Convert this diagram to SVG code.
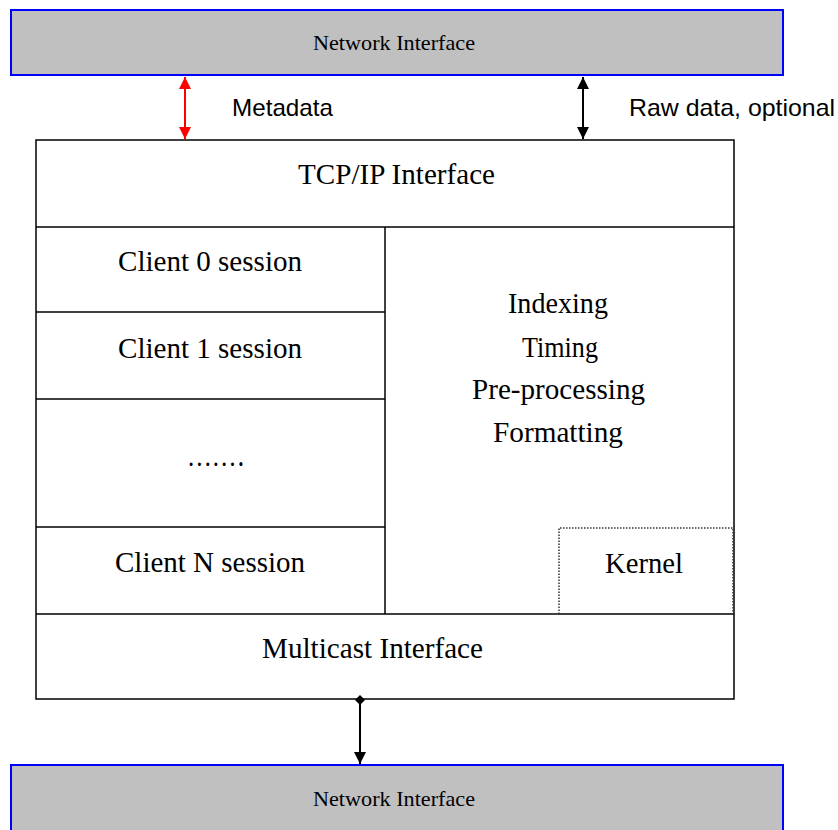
<svg xmlns="http://www.w3.org/2000/svg" width="838" height="830" viewBox="0 0 838 830">
  <style>
    .net { fill: #c0c0c0; stroke: #0000ff; stroke-width: 2; }
    .frame { fill: #ffffff; stroke: #000000; stroke-width: 1.5; }
    .rule { stroke: #000000; stroke-width: 1.5; fill: none; }
    .dotted { fill: none; stroke: #333333; stroke-width: 1.5; stroke-dasharray: 1.5 1.5; }
    .netlabel { font-family: "Liberation Serif", "DejaVu Serif", serif; font-size: 22px; text-anchor: middle; fill: #000; }
    .label { font-family: "Liberation Serif", "DejaVu Serif", serif; font-size: 29px; text-anchor: middle; fill: #000; }
    .side { font-family: "Liberation Sans", Arial, sans-serif; font-size: 24px; fill: #000; }
  </style>
  <defs>
    <marker id="headRed" viewBox="0 0 10 10" refX="10" refY="5" markerWidth="13" markerHeight="12" markerUnits="userSpaceOnUse" orient="auto-start-reverse">
      <path d="M0,0 L10,5 L0,10 Z" fill="#ff0000"/>
    </marker>
    <marker id="headBlack" viewBox="0 0 10 10" refX="10" refY="5" markerWidth="13" markerHeight="12" markerUnits="userSpaceOnUse" orient="auto-start-reverse">
      <path d="M0,0 L10,5 L0,10 Z" fill="#000000"/>
    </marker>
    <marker id="diamond" viewBox="0 0 10 10" refX="5" refY="5" markerWidth="10" markerHeight="10" markerUnits="userSpaceOnUse" orient="auto">
      <path d="M0,5 L5,0 L10,5 L5,10 Z" fill="#000000"/>
    </marker>
  </defs>

  <g id="network-top">
    <rect class="net" x="11" y="10" width="772" height="65"/>
    <text class="netlabel" x="394" y="50" textLength="162" lengthAdjust="spacingAndGlyphs">Network Interface</text>
  </g>

  <g id="server">
    <rect class="frame" x="36" y="140" width="698" height="559"/>
    <line class="rule" x1="36" y1="227" x2="734" y2="227"/>
    <line class="rule" x1="385" y1="227" x2="385" y2="614"/>
    <line class="rule" x1="36" y1="614" x2="734" y2="614"/>
  </g>

  <g id="tcpip">
    <text class="label" x="396.5" y="184" textLength="197" lengthAdjust="spacingAndGlyphs">TCP/IP Interface</text>
  </g>

  <g id="client-0">
    <line class="rule" x1="36" y1="312" x2="385" y2="312"/>
    <text class="label" x="210" y="271" textLength="184" lengthAdjust="spacingAndGlyphs">Client 0 session</text>
  </g>
  <g id="client-1">
    <line class="rule" x1="36" y1="399" x2="385" y2="399"/>
    <text class="label" x="210" y="358" textLength="184" lengthAdjust="spacingAndGlyphs">Client 1 session</text>
  </g>
  <g id="client-more">
    <line class="rule" x1="36" y1="527" x2="385" y2="527"/>
    <text class="label" x="216" y="466" textLength="58" lengthAdjust="spacingAndGlyphs">……․</text>
  </g>
  <g id="client-n">
    <text class="label" x="210" y="572" textLength="190" lengthAdjust="spacingAndGlyphs">Client N session</text>
  </g>

  <g id="processing">
    <text class="label" x="558" y="313" textLength="100" lengthAdjust="spacingAndGlyphs">Indexing</text>
    <text class="label" x="560" y="357" textLength="76" lengthAdjust="spacingAndGlyphs">Timing</text>
    <text class="label" x="558.5" y="399" textLength="173" lengthAdjust="spacingAndGlyphs">Pre-processing</text>
    <text class="label" x="558" y="442" textLength="130" lengthAdjust="spacingAndGlyphs">Formatting</text>
  </g>

  <g id="kernel">
    <path class="dotted" d="M559,614 L559,528 L733,528 L733,614"/>
    <text class="label" x="644" y="573" textLength="78" lengthAdjust="spacingAndGlyphs">Kernel</text>
  </g>

  <g id="multicast">
    <text class="label" x="372.5" y="658" textLength="221" lengthAdjust="spacingAndGlyphs">Multicast Interface</text>
  </g>

  <g id="network-bottom">
    <rect class="net" x="11" y="765" width="772" height="70"/>
    <text class="netlabel" x="394" y="806" textLength="162" lengthAdjust="spacingAndGlyphs">Network Interface</text>
  </g>

  <g id="connectors">
    <line x1="185" y1="77" x2="185" y2="139" stroke="#ff0000" stroke-width="2" marker-start="url(#headRed)" marker-end="url(#headRed)"/>
    <text class="side" x="232" y="116" textLength="101" lengthAdjust="spacingAndGlyphs">Metadata</text>
    <line x1="583" y1="77" x2="583" y2="139" stroke="#000000" stroke-width="2" marker-start="url(#headBlack)" marker-end="url(#headBlack)"/>
    <text class="side" x="629" y="116" textLength="206" lengthAdjust="spacingAndGlyphs">Raw data, optional</text>
    <line x1="360" y1="700" x2="360" y2="764" stroke="#000000" stroke-width="2" marker-start="url(#diamond)" marker-end="url(#headBlack)"/>
  </g>
</svg>
